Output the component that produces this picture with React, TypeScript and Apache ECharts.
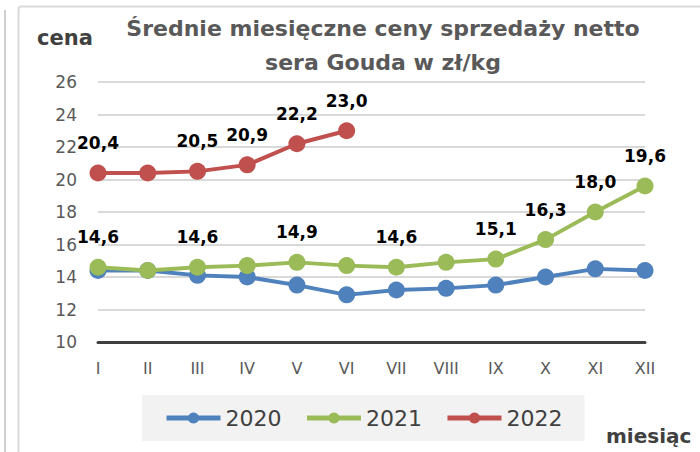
import React, { useEffect, useRef } from "react";
import * as echarts from "echarts";

const months = ["I", "II", "III", "IV", "V", "VI", "VII", "VIII", "IX", "X", "XI", "XII"];
const yearNames = ["2020", "2021", "2022"];
const values2020 = [14.4, 14.4, 14.1, 14.0, 13.5, 12.9, 13.2, 13.3, 13.5, 14.0, 14.5, 14.4];
const values2021 = [14.6, 14.4, 14.6, 14.7, 14.9, 14.7, 14.6, 14.9, 15.1, 16.3, 18.0, 19.6];
const values2022 = [20.4, 20.4, 20.5, 20.9, 22.2, 23.0];
const labels2021 = [true, false, true, false, true, false, true, false, true, true, true, true];
const labels2022 = [true, false, true, true, true, true];
const yTicks = [10, 12, 14, 16, 18, 20, 22, 24, 26];

const colors = ["#4F81BD", "#9BBB59", "#C0504D"];
const FONT = "DejaVu Sans";

function fmt(v: number) {
  return v.toFixed(1).replace(".", ",");
}

function withLabels(values: number[], shown: boolean[] | null) {
  return values.map((v, i) => ({
    value: v,
    label: { show: shown ? !!shown[i] : false },
  }));
}

export default function App() {
  const ref = useRef<HTMLDivElement>(null);
  useEffect(() => {
    if (!ref.current) return;
    const chart = echarts.init(ref.current, null, { renderer: "svg" });
    const labelStyle = {
      position: "top" as const,
      distance: 13,
      color: "#000000",
      fontFamily: FONT,
      fontWeight: "bold" as const,
      fontSize: 17,
      formatter: (p: any) => fmt(p.value),
    };
    const seriesData = [
      withLabels(values2020, null),
      withLabels(values2021, labels2021),
      withLabels(values2022, labels2022),
    ];
    chart.setOption({
      animation: false,
      backgroundColor: "#ffffff",
      title: {
        text: "Średnie miesięczne ceny sprzedaży netto\nsera Gouda w zł/kg",
        left: 378,
        top: 6,
        textAlign: "center",
        textStyle: {
          fontFamily: FONT,
          fontWeight: "bold",
          fontSize: 22,
          color: "#595959",
          lineHeight: 34,
        },
      },
      graphic: [
        {
          type: "line",
          shape: { x1: 5, y1: 10, x2: 5, y2: 452 },
          style: { stroke: "#d0d0d0", lineWidth: 2 },
        },
        {
          type: "rect",
          shape: { x: 18.5, y: 6.5, width: 700, height: 460, r: 3 },
          style: { stroke: "#d9d9d9", lineWidth: 2, fill: "none" },
          z: -1,
        },
        {
          type: "text",
          left: 37,
          top: 27,
          style: {
            text: "cena",
            fontFamily: FONT,
            fontWeight: "bold",
            fontSize: 21,
            fill: "#404040",
          },
        },
        {
          type: "text",
          left: 606,
          top: 426,
          style: {
            text: "miesiąc",
            fontFamily: FONT,
            fontWeight: "bold",
            fontSize: 20,
            fill: "#404040",
          },
        },
      ],
      legend: {
        data: yearNames,
        left: 142,
        top: 395,
        padding: [12, 22, 12, 22],
        backgroundColor: "#f2f2f2",
        itemWidth: 54,
        itemHeight: 14,
        itemGap: 23,
        lineStyle: { width: 5 },
        textStyle: {
          fontFamily: FONT,
          fontSize: 22,
          color: "#404040",
        },
      },
      grid: { left: 98, right: 55, top: 82, bottom: 110, containLabel: false },
      xAxis: {
        type: "category",
        data: months,
        boundaryGap: false,
        axisLine: { lineStyle: { color: "#404040", width: 3 } },
        axisTick: { show: false },
        axisLabel: {
          margin: 18,
          fontFamily: FONT,
          fontSize: 16,
          color: "#595959",
        },
      },
      yAxis: {
        type: "value",
        min: 10,
        max: 26,
        interval: 2,
        axisLine: { show: false },
        axisTick: { show: false },
        splitLine: { lineStyle: { color: "#d9d9d9", width: 2 } },
        axisLabel: {
          margin: 21,
          fontFamily: FONT,
          fontSize: 17,
          color: "#595959",
          formatter: (v: number) => (yTicks.includes(v) ? String(v) : ""),
        },
      },
      series: yearNames.map((name, i) => ({
        name,
        type: "line",
        data: seriesData[i],
        symbol: "circle",
        symbolSize: 17,
        color: colors[i],
        lineStyle: { width: 4, color: colors[i] },
        itemStyle: { color: colors[i] },
        label: labelStyle,
        z: 2 + i,
      })),
    });
    return () => chart.dispose();
  }, []);
  return (
    <div
      ref={ref}
      style={{ position: "fixed", left: 0, top: 0, width: 700, height: 452 }}
    />
  );
}
